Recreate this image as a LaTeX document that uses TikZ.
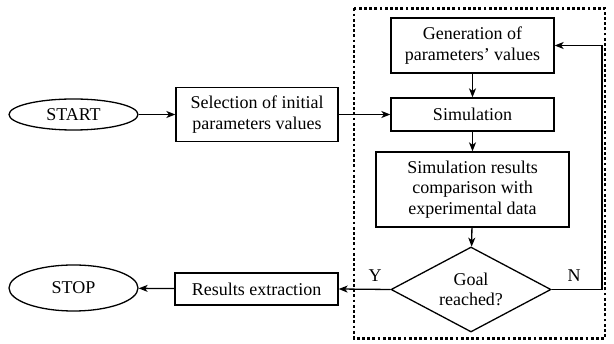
\documentclass[tikz,border=0pt]{standalone}
\usepackage{fontspec}
\setmainfont{Liberation Serif}
\usetikzlibrary{shapes.geometric,arrows.meta}
\begin{document}
\begin{tikzpicture}[x=1pt,y=-1pt,
  every node/.style={font=\fontsize{18}{20.5}\selectfont, align=center, inner sep=0pt},
  box/.style={draw, line width=1.3pt, rectangle},
  oval/.style={draw, line width=1.3pt, ellipse},
  conn/.style={draw, line width=1.3pt, -{Stealth[length=9pt,width=7pt,inset=2.5pt]}},
  plain/.style={draw, line width=1.3pt}]
\useasboundingbox (0,0) rectangle (614,344);
\draw[line width=2.6pt, dash pattern=on 2.8pt off 2.4pt] (354,8.5) rectangle (605,338.5);
\node[oval, minimum width=129pt, minimum height=31pt] (start) at (73.5,114.5) {START};
\node[box, minimum width=162pt, minimum height=54pt] (sel) at (257,114.5) {Selection of initial\\parameters values};
\node[box, minimum width=163pt, minimum height=55pt] (gen) at (472.5,45.5) {Generation of\\parameters' values};
\node[box, minimum width=163pt, minimum height=33pt] (sim) at (472.5,114.5) {Simulation};
\node[box, minimum width=193pt, minimum height=75pt] (cmp) at (472.5,189.5) {Simulation results\\comparison with\\experimental data};
\node[draw, line width=1.3pt, diamond, aspect=1.88, minimum width=160pt, minimum height=85pt] (goal) at (471,289.5) {Goal\\reached?};
\node[box, minimum width=163pt, minimum height=32pt] (res) at (256.5,289) {Results extraction};
\node[oval, minimum width=129pt, minimum height=46pt] (stop) at (73.5,288) {STOP};
\coordinate (nc) at (602,289.5);
\node (ylab) at (375,276) {Y};
\node (nlab) at (574,276) {N};
\draw[conn] (start) -- (sel);
\draw[conn] (sel) -- (sim);
\draw[conn] (gen) -- (sim);
\draw[conn] (sim) -- (cmp);
\draw[conn] (cmp) -- (goal);
\draw[conn] (goal.west) -- (res.east);
\draw[conn] (res) -- (stop);
\draw[conn] (goal.east) -- (nc) |- (gen.east);
\end{tikzpicture}
\end{document}
